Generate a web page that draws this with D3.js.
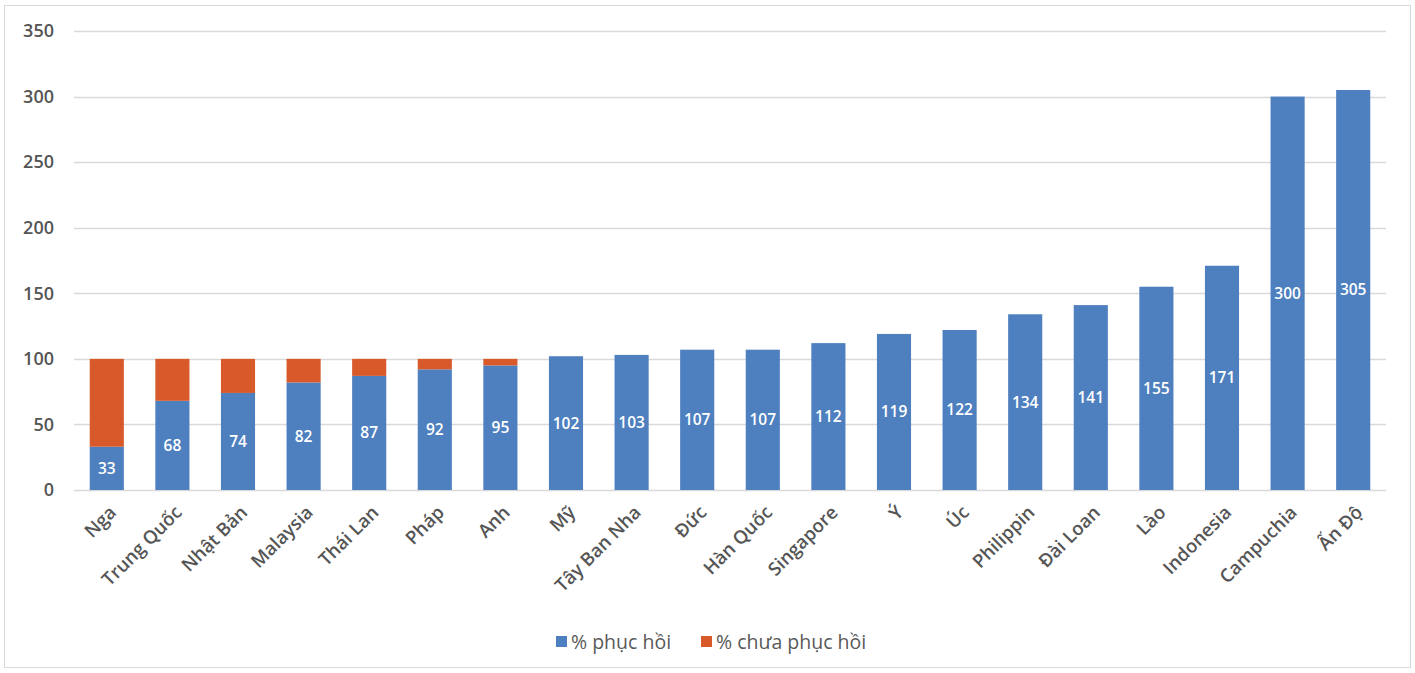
<!DOCTYPE html>
<html>
<head>
<meta charset="utf-8">
<script src="https://cdn.jsdelivr.net/npm/d3@7"></script>
<style>
  body { margin: 0; background: #fff; }
  text { font-family: "Open Sans", "DejaVu Sans", sans-serif; }
</style>
</head>
<body>
<div id="chart"></div>
<script>
// data
var countries = ["Nga", "Trung Quốc", "Nhật Bản", "Malaysia", "Thái Lan", "Pháp", "Anh", "Mỹ",
    "Tây Ban Nha", "Đức", "Hàn Quốc", "Singapore", "Ý", "Úc", "Philippin", "Đài Loan",
    "Lào", "Indonesia", "Campuchia", "Ấn Độ"];
var recovered = [33, 68, 74, 82, 87, 92, 95, 102, 103, 107, 107, 112, 119, 122, 134, 141, 155, 171, 300, 305];
var notRecovered = [67, 32, 26, 18, 13, 8, 5, 0, 0, 0, 0, 0, 0, 0, 0, 0, 0, 0, 0, 0];
var seriesNames = ["% phục hồi", "% chưa phục hồi"];
var yTicks = [0, 50, 100, 150, 200, 250, 300, 350];

var W = 1415, H = 673;
var colors = ["#4e7fbf", "#d85a2b"];

var svg = d3.select("#chart").append("svg")
    .attr("width", W)
    .attr("height", H);

// outer border
svg.append("rect")
    .attr("x", 4.5).attr("y", 5.5)
    .attr("width", 1406).attr("height", 662)
    .attr("fill", "#fff")
    .attr("stroke", "#d9d9d9");

var x = d3.scaleBand()
    .domain(countries)
    .range([74, 1386])
    .paddingInner(0.48)
    .paddingOuter(0.24);

var y = d3.scaleLinear()
    .domain([0, 350])
    .range([490, 31]);

// gridlines
svg.append("g")
    .selectAll("line")
    .data(yTicks)
    .enter()
    .append("line")
    .attr("x1", 74).attr("x2", 1386)
    .attr("y1", function (d) { return Math.round(y(d)) + 0.5; })
    .attr("y2", function (d) { return Math.round(y(d)) + 0.5; })
    .style("stroke", "#d9d9d9")
    .style("stroke-width", 1.3);

// y axis labels
var yAxis = svg.append("g")
    .attr("transform", "translate(54,0)")
    .call(d3.axisLeft(y).tickValues(yTicks).tickSize(0).tickPadding(0));
yAxis.select(".domain").remove();
yAxis.selectAll("text")
    .style("font-size", "18px")
    .style("font-weight", 600)
    .style("fill", "#555")
    .style("font-family", "'Open Sans', sans-serif");

var rows = countries.map(function (c, i) {
    return {country: c, rec: recovered[i], not: notRecovered[i]};
});
var stack = d3.stack().keys(["rec", "not"])(rows);

svg.append("g")
    .selectAll("g")
    .data(stack)
    .enter()
    .append("g")
    .attr("fill", function (d, i) { return colors[i]; })
    .selectAll("rect")
    .data(function (d) { return d; })
    .enter()
    .append("rect")
    .attr("x", function (d) { return x(d.data.country); })
    .attr("width", x.bandwidth())
    .attr("y", function (d) { return y(d[1]); })
    .attr("height", function (d) { return y(d[0]) - y(d[1]); });

// data labels
svg.append("g")
    .selectAll("text")
    .data(rows)
    .enter()
    .append("text")
    .attr("x", function (d) { return x(d.country) + x.bandwidth() / 2; })
    .attr("y", function (d) { return y(d.rec / 2); })
    .attr("dy", "0.35em")
    .attr("text-anchor", "middle")
    .style("fill", "#fff")
    .style("font-size", "15.5px")
    .style("font-weight", 600)
    .text(function (d) { return d.rec; });

// x axis labels
var xAxis = svg.append("g")
    .attr("transform", "translate(0,490)")
    .call(d3.axisBottom(x).tickSize(0).tickPadding(0));
xAxis.select(".domain").remove();
xAxis.selectAll("text")
    .attr("text-anchor", "end")
    .attr("dy", "0.35em")
    .attr("transform", "translate(6,19) rotate(-45)")
    .style("font-size", "18.5px")
    .style("font-weight", 600)
    .style("fill", "#555")
    .style("font-family", "'Open Sans', sans-serif");

// legend
var legendX = [556, 701];
var legend = svg.append("g");
seriesNames.forEach(function (name, i) {
    legend.append("rect")
        .attr("x", legendX[i]).attr("y", 636)
        .attr("width", 11).attr("height", 11)
        .attr("fill", colors[i]);
    legend.append("text")
        .attr("x", legendX[i] + 15).attr("y", 642)
        .attr("dy", "0.35em")
        .style("font-size", "19.5px")
        .style("fill", "#595959")
        .text(name);
});
</script>
</body>
</html>
